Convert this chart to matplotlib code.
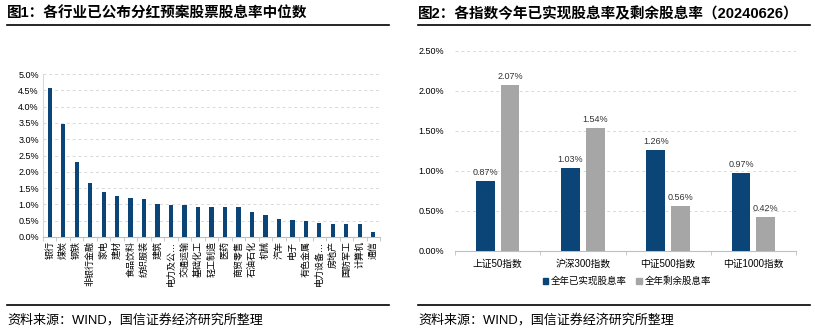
import matplotlib
matplotlib.use("Agg")
import matplotlib.pyplot as plt
from matplotlib.lines import Line2D
from matplotlib.patches import Patch
import numpy as np

plt.rcParams['font.family'] = ['Liberation Sans', 'Noto Sans CJK SC', 'DejaVu Sans']

# 图1 data
industries = ['银行', '煤炭', '钢铁', '非银行金融', '家电', '建材', '食品饮料', '纺织服装', '建筑',
              '电力及公…', '交通运输', '基础化工', '轻工制造', '医药', '商贸零售', '石油石化', '机械',
              '汽车', '电子', '有色金属', '电力设备…', '房地产', '国防军工', '计算机', '通信']
ind_yield = [4.56, 3.47, 2.29, 1.67, 1.38, 1.26, 1.20, 1.18, 1.01,
             0.99, 0.98, 0.93, 0.93, 0.93, 0.91, 0.77, 0.66,
             0.56, 0.52, 0.49, 0.44, 0.41, 0.41, 0.39, 0.16]

# 图2 data
indices = ['上证50指数', '沪深300指数', '中证500指数', '中证1000指数']
realized = [0.87, 1.03, 1.26, 0.97]
remaining = [2.07, 1.54, 0.56, 0.42]

BLUE = '#0b4577'
GRAY = '#a6a6a6'
W, H = 815, 332

fig = plt.figure(figsize=(8.15, 3.32), dpi=100)


def px(x0, y_top, x1, y_bot):
    return [x0 / W, 1 - y_bot / H, (x1 - x0) / W, (y_bot - y_top) / H]


def hline(x0, x1, y, lw=1.2):
    fig.add_artist(Line2D([x0 / W, x1 / W], [1 - y / H, 1 - y / H],
                          transform=fig.transFigure, color='black', lw=lw))


# titles, rules, footers
fig.text(7 / W, 1 - 14 / H, '图1：各行业已公布分红预案股票股息率中位数', fontsize=10.5,
         fontweight='bold', va='center', ha='left')
fig.text(418 / W, 1 - 14 / H, '图2：各指数今年已实现股息率及剩余股息率（20240626）', fontsize=10.5,
         fontweight='bold', va='center', ha='left')
hline(7, 389, 25)
hline(418, 810, 25)
hline(7, 389, 305)
hline(418, 810, 305)
fig.text(7 / W, 1 - 320 / H, '资料来源：WIND，国信证券经济研究所整理', fontsize=9.4, va='center')
fig.text(418 / W, 1 - 320 / H, '资料来源：WIND，国信证券经济研究所整理', fontsize=9.4, va='center')

# left chart
ax1 = fig.add_axes(px(43, 74, 380, 237))
x = np.arange(len(industries))
ax1.bar(x, ind_yield, width=0.32, color=BLUE, zorder=3)
ax1.set_xlim(-0.5, len(industries) - 0.5)
ax1.set_ylim(0, 5.0)
ax1.set_yticks(np.arange(0, 5.01, 0.5))
ax1.set_yticklabels([f'{v:.1f}%' for v in np.arange(0, 5.01, 0.5)], fontsize=6.5)
ax1.set_xticks(x)
ax1.set_xticklabels(industries, rotation=90, fontsize=6.5)
ax1.tick_params(axis='x', length=0, pad=3)
ax1.tick_params(axis='y', length=0, pad=3)
ax1.set_xticks(np.arange(-0.5, len(industries), 1), minor=True)
ax1.tick_params(axis='x', which='minor', length=3, color='#bfbfbf', direction='out')
ax1.grid(axis='y', ls=(0, (3, 3)), color='#d9d9d9', lw=0.7, zorder=0)
for s in ['top', 'right']:
    ax1.spines[s].set_visible(False)
ax1.spines['left'].set_color('#d9d9d9')
ax1.spines['bottom'].set_color('#bfbfbf')

# right chart
ax2 = fig.add_axes(px(455, 50.7, 796, 251))
xi = np.arange(len(indices))
bw = 0.22
off = 0.145
ax2.bar(xi - off, realized, width=bw, color=BLUE, zorder=3)
ax2.bar(xi + off, remaining, width=bw, color=GRAY, zorder=3)
for xx, v in zip(xi - off, realized):
    ax2.text(xx, v + 0.05, f'{v:.2f}%', ha='center', va='bottom', fontsize=6.5, color='#333333')
for xx, v in zip(xi + off, remaining):
    ax2.text(xx, v + 0.05, f'{v:.2f}%', ha='center', va='bottom', fontsize=6.5, color='#333333')
ax2.set_xlim(-0.5, len(indices) - 0.5)
ax2.set_ylim(0, 2.5)
ax2.set_yticks(np.arange(0, 2.51, 0.5))
ax2.set_yticklabels([f'{v:.2f}%' for v in np.arange(0, 2.51, 0.5)], fontsize=6.5)
ax2.set_xticks(xi)
ax2.set_xticklabels(indices, fontsize=7)
ax2.tick_params(axis='x', length=0, pad=6)
ax2.tick_params(axis='y', length=0, pad=8)
ax2.set_xticks(np.arange(-0.5, len(indices), 1), minor=True)
ax2.tick_params(axis='x', which='minor', length=3, color='#bfbfbf', direction='out')
ax2.grid(axis='y', ls=(0, (3, 3)), color='#d9d9d9', lw=0.7, zorder=0)
for s in ['top', 'right', 'left']:
    ax2.spines[s].set_visible(False)
ax2.spines['bottom'].set_color('#bfbfbf')

handles = [Patch(color=BLUE, label='全年已实现股息率'), Patch(color=GRAY, label='全年剩余股息率')]
fig.legend(handles=handles, loc='center', bbox_to_anchor=(627 / W, 1 - 281 / H), ncol=2,
           frameon=False, fontsize=6.8, handlelength=0.6, handleheight=0.6,
           handletextpad=0.3, columnspacing=1.0)

fig.savefig('out.png', dpi=100)
